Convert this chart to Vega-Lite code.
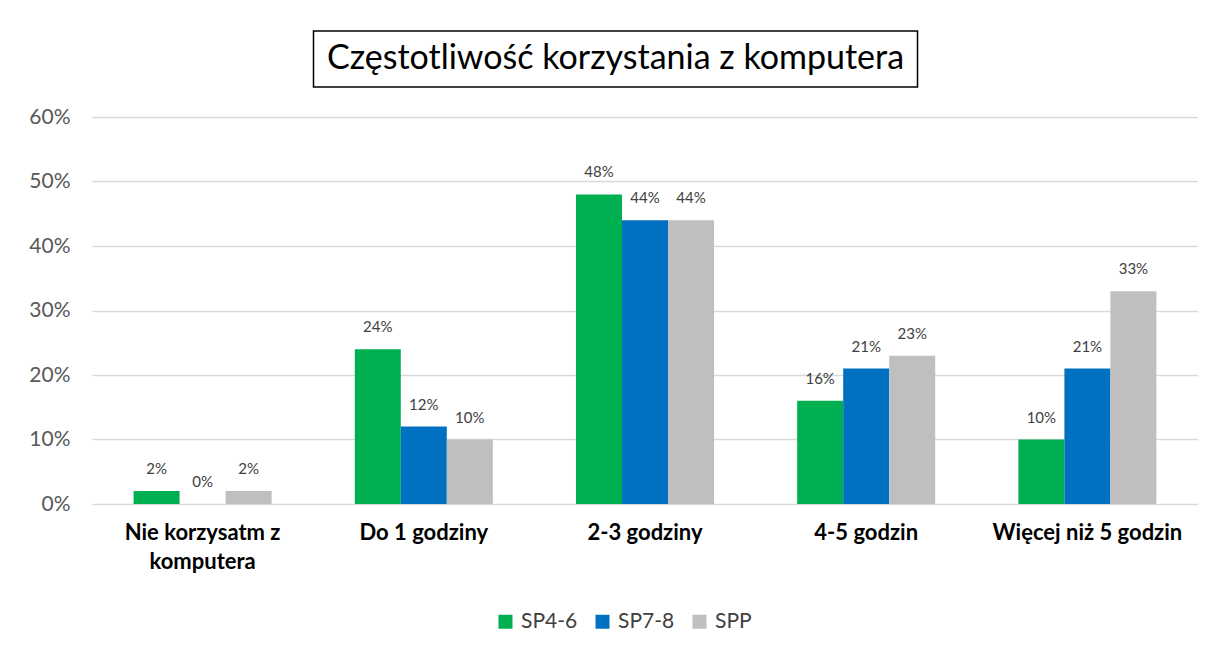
{
  "$schema": "https://vega.github.io/schema/vega-lite/v6.json",
  "padding": {"left": 28, "top": 30, "right": 0, "bottom": 0},
  "background": "white",
  "config": {"font": "Lato", "view": {"stroke": null}},
  "spacing": 18,
  "center": true,
  "vconcat": [
    {
      "spacing": 0,
      "hconcat": [
        {
          "width": 604,
          "height": 56,
          "view": {"stroke": "black", "strokeWidth": 1.5},
          "data": {"values": [{"title": "Częstotliwość korzystania z komputera"}]},
          "mark": {"type": "text", "font": "Lato", "fontSize": 34, "color": "black", "baseline": "middle", "align": "center"},
          "encoding": {"text": {"field": "title"}}
        },
        {
          "width": 58,
          "height": 56,
          "data": {"values": []},
          "mark": {"type": "text"},
          "encoding": {}
        }
      ]
    },
    {
      "width": 1106,
      "height": 387,
      "data": {"values": [
        {"cat": "Nie korzysatm z komputera", "series": "SP4-6", "value": 0.02},
        {"cat": "Nie korzysatm z komputera", "series": "SP7-8", "value": 0.0},
        {"cat": "Nie korzysatm z komputera", "series": "SPP", "value": 0.02},
        {"cat": "Do 1 godziny", "series": "SP4-6", "value": 0.24},
        {"cat": "Do 1 godziny", "series": "SP7-8", "value": 0.12},
        {"cat": "Do 1 godziny", "series": "SPP", "value": 0.10},
        {"cat": "2-3 godziny", "series": "SP4-6", "value": 0.48},
        {"cat": "2-3 godziny", "series": "SP7-8", "value": 0.44},
        {"cat": "2-3 godziny", "series": "SPP", "value": 0.44},
        {"cat": "4-5 godzin", "series": "SP4-6", "value": 0.16},
        {"cat": "4-5 godzin", "series": "SP7-8", "value": 0.21},
        {"cat": "4-5 godzin", "series": "SPP", "value": 0.23},
        {"cat": "Więcej niż 5 godzin", "series": "SP4-6", "value": 0.10},
        {"cat": "Więcej niż 5 godzin", "series": "SP7-8", "value": 0.21},
        {"cat": "Więcej niż 5 godzin", "series": "SPP", "value": 0.33}
      ]},
      "encoding": {
        "x": {
          "field": "cat", "type": "nominal", "sort": null,
          "scale": {"paddingInner": 0.376, "paddingOuter": 0.188},
          "axis": {
            "title": null, "labelAngle": 0, "domain": false, "ticks": false,
            "labelFont": "Lato", "labelFontSize": 22, "labelFontWeight": "bold", "labelColor": "#000000",
            "labelPadding": 18, "labelLineHeight": 29, "labelLimit": 0,
            "labelExpr": "datum.label == 'Nie korzysatm z komputera' ? ['Nie korzysatm z', 'komputera'] : datum.label"
          }
        },
        "xOffset": {"field": "series", "type": "nominal", "sort": ["SP4-6", "SP7-8", "SPP"], "scale": {"paddingInner": 0, "paddingOuter": 0}},
        "y": {
          "field": "value", "type": "quantitative",
          "scale": {"domain": [0, 0.6]},
          "axis": {
            "title": null, "format": ".0%", "values": [0, 0.1, 0.2, 0.3, 0.4, 0.5, 0.6],
            "domain": false, "ticks": false, "gridColor": "#D9D9D9", "gridWidth": 1.5,
            "labelFont": "Lato", "labelFontSize": 21, "labelColor": "#595959", "labelPadding": 22
          }
        }
      },
      "layer": [
        {
          "mark": {"type": "bar"},
          "encoding": {
            "color": {
              "field": "series", "type": "nominal",
              "scale": {"domain": ["SP4-6", "SP7-8", "SPP"], "range": ["#00B050", "#0070C0", "#BFBFBF"]},
              "legend": {
                "title": null, "orient": "none", "legendX": 403, "legendY": 580, "direction": "horizontal",
                "symbolType": "square", "symbolSize": 196, "symbolStrokeWidth": 0, "padding": 0,
                "labelFont": "Lato", "labelFontSize": 21, "labelColor": "#404040",
                "columnPadding": 14, "labelOffset": 5
              }
            }
          }
        },
        {
          "mark": {"type": "text", "baseline": "alphabetic", "dy": -17, "fontSize": 15, "color": "#404040", "font": "Lato"},
          "encoding": {"text": {"field": "value", "type": "quantitative", "format": ".0%"}}
        }
      ]
    }
  ]
}
